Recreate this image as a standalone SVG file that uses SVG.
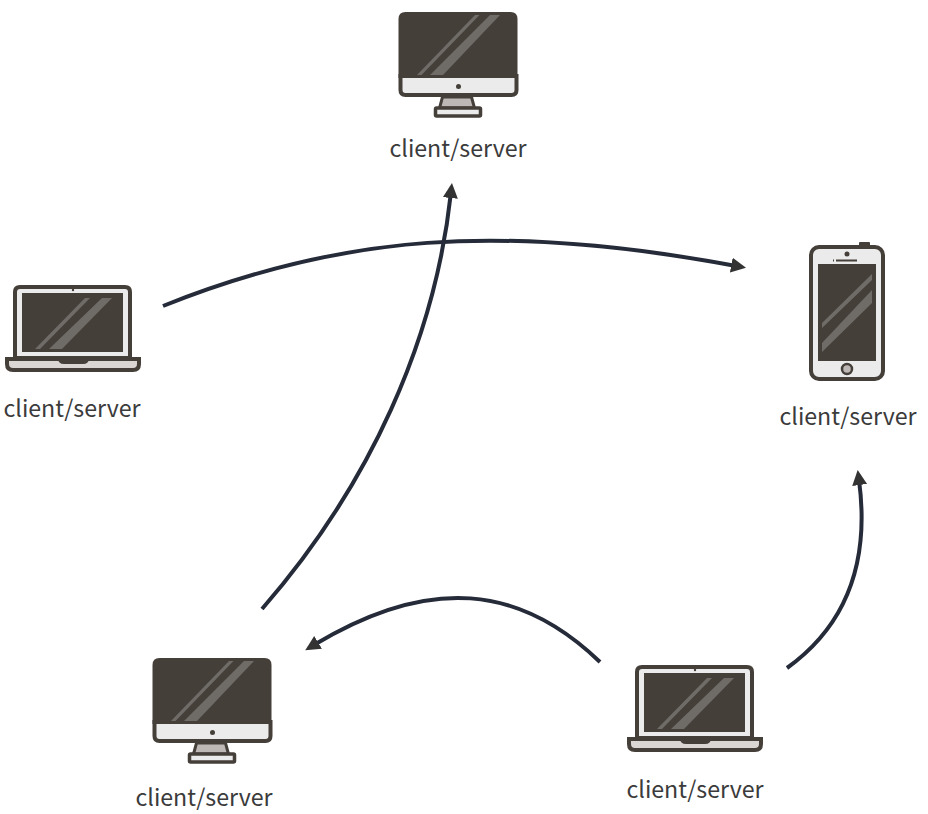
<svg xmlns="http://www.w3.org/2000/svg" xmlns:xlink="http://www.w3.org/1999/xlink" width="928" height="814" viewBox="0 0 928 814">
<style>
.lbl{font-family:"Noto Sans CJK SC","Noto Sans",sans-serif;font-size:23.200px;fill:#3b3b3b;text-anchor:middle}
.edge{fill:none;stroke:#262b3a;stroke-width:4}
.dk{fill:#453f3a}
.st{fill:#6f6b67}
.lt{fill:#ebebeb}
.ol{stroke:#453f3a;stroke-width:4}
</style>
<defs>
<marker id="a" markerUnits="userSpaceOnUse" markerWidth="18" markerHeight="18" refX="5" refY="7.500" orient="auto"><path d="M0 0L15 7.500L0 15Z" fill="#333"/></marker>
<g id="desktop">
<path class="lt ol" d="M2 64H118V78Q118 83 113 83H7Q2 83 2 78Z"/>
<path class="dk" d="M0 66V7Q0 0 7 0H112Q119 0 119 7V66Z"/>
<path class="st" d="M18.500 63L76.500 3H81L23 63Z M31.500 63L91.500 3H101.500L44.500 63Z"/>
<circle cx="60" cy="74.500" r="2.500" fill="#453f3a"/>
<path d="M44 85H73L76 96H41Z" fill="#bdb8b5" stroke="#453f3a" stroke-width="3"/>
<rect x="37" y="96" width="45" height="8" rx="1" fill="#ebebeb" stroke="#453f3a" stroke-width="3.500"/>
</g>
<g id="laptop">
<path fill="#ebebeb" stroke="#453f3a" stroke-width="4" d="M10 73V7Q10 2 15 2H120Q125 2 125 7V73Z"/>
<rect x="17" y="8" width="101" height="59" fill="#453f3a"/>
<path class="st" d="M30 64L80 13H85L35 64Z M44 64L97 13H107L57 64Z"/>
<circle cx="68" cy="5" r="1.200" fill="#453f3a"/>
<path fill="#d9d6d4" stroke="#453f3a" stroke-width="4" d="M2 74H134V79Q134 85 128 85H8Q2 85 2 79Z"/>
<path d="M53 73H84Q84 79 78 79H59Q53 79 53 73Z" fill="#453f3a"/>
</g>
</defs>
<g id="connectors">
<path class="edge" marker-end="url(#a)" d="M163 306C340 235 500 222 736.200 266"/>
<path class="edge" marker-end="url(#a)" d="M262 609C370 485 435 340 450.900 193"/>
<path class="edge" marker-end="url(#a)" d="M600 662C520 585 430 575 313.800 645"/>
<path class="edge" marker-end="url(#a)" d="M787 668C840 630 871 570 859 480"/>
</g>
<g id="node-top"><use href="#desktop" x="398.500" y="12"/><text class="lbl" x="458" y="157">client/server</text></g>
<g id="node-left"><use href="#laptop" x="5" y="285"/><text class="lbl" x="72" y="417">client/server</text></g>
<g id="node-right">
<rect x="859" y="242" width="11" height="5" rx="1" fill="#453f3a"/>
<rect x="811" y="247" width="72" height="132" rx="8" fill="#ebebeb" stroke="#453f3a" stroke-width="4"/>
<rect x="818" y="264" width="58" height="97" fill="#453f3a"/>
<path class="st" d="M822 323L872 274V280L822 328Z M822 343L872 290V303L822 352Z"/>
<circle cx="847" cy="254" r="2.500" fill="#453f3a"/>
<path d="M836 260.500H857M833 260.500H834" stroke="#453f3a" stroke-width="2" fill="none"/>
<circle cx="847" cy="369" r="5" fill="#bdb8b5" stroke="#453f3a" stroke-width="2.500"/>
<text class="lbl" x="848" y="425">client/server</text>
</g>
<g id="node-bl"><use href="#desktop" x="152.500" y="658"/><text class="lbl" x="204" y="806">client/server</text></g>
<g id="node-br"><use href="#laptop" x="627" y="665"/><text class="lbl" x="695" y="798">client/server</text></g>
</svg>
